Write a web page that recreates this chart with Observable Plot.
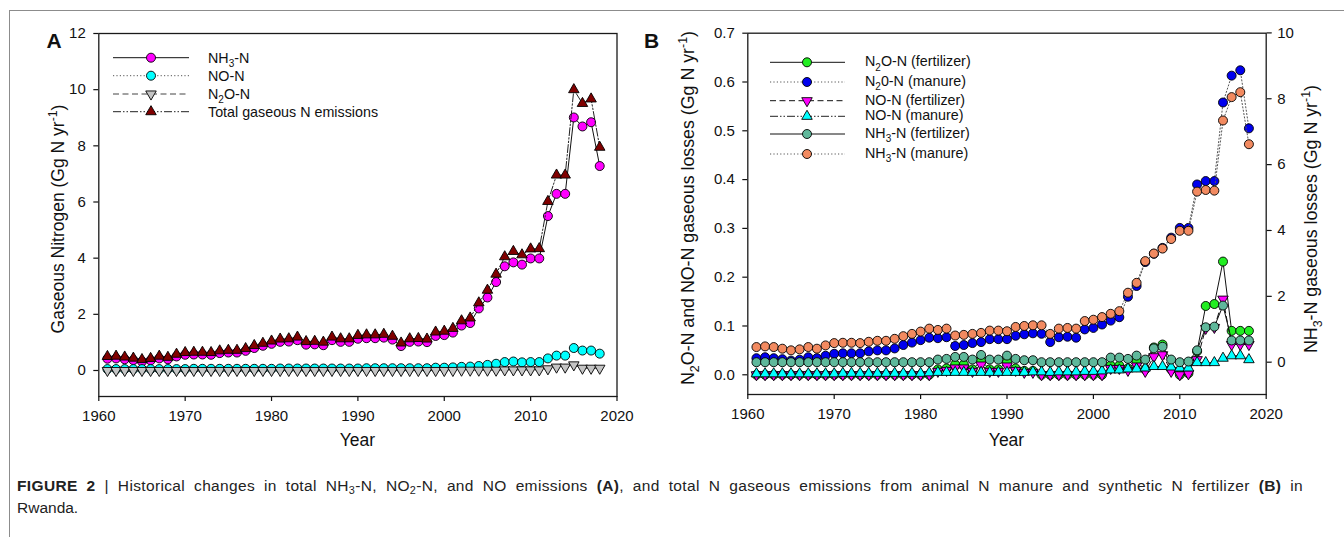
<!DOCTYPE html>
<html>
<head>
<meta charset="utf-8">
<script src="https://cdn.jsdelivr.net/npm/d3@7"></script>
<script src="https://cdn.jsdelivr.net/npm/@observablehq/plot@0.6"></script>
<style>
  html, body { margin: 0; padding: 0; background: #fff; }
  #fig { position: relative; width: 1344px; height: 537px; overflow: hidden; background: #fff;
         font-family: "Liberation Sans", Arial, Helvetica, sans-serif; }
  #border { position: absolute; left: 9px; top: 10px; width: 1400px; height: 600px;
            border-left: 1.5px solid #8c8c8c; border-top: 1.5px solid #8c8c8c; }
  #panelA { position: absolute; left: 0; top: 0; width: 660px; }
  #panelB { position: absolute; left: 640px; top: 0; width: 704px; }
  #caption { position: absolute; left: 17px; top: 475px; width: 1286px; font-size: 15.5px; line-height: 22px;
             color: #222; }
  #cap1 { display: block; white-space: nowrap; }
  #cap2 { display: block; }
  #caption sub { font-size: 70%; vertical-align: baseline; position: relative; top: 0.3em; line-height: 0; }
</style>
</head>
<body>
<div id="fig">
  <div id="border"></div>
  <div id="panelA"></div>
  <div id="panelB"></div>
  <div id="caption"><span id="cap1"><b>FIGURE 2</b> | Historical changes in total NH<sub>3</sub>-N, NO<sub>2</sub>-N, and NO emissions <b>(A)</b>, and total N gaseous emissions from animal N manure and synthetic N fertilizer <b>(B)</b> in</span><span id="cap2">Rwanda.</span></div>
</div>
<script>
// ---------------- DATA ----------------
const years = d3.range(1961, 2019);
const xTicks = [1960, 1970, 1980, 1990, 2000, 2010, 2020];
const yTicksA = [0, 2, 4, 6, 8, 10, 12];
const yTicksBLeft = [0, 0.1, 0.2, 0.3, 0.4, 0.5, 0.6, 0.7];
const yTicksBRight = [0, 2, 4, 6, 8, 10];

// Panel A (Gg N yr-1)
const nh3A = [0.42,0.43,0.40,0.37,0.32,0.36,0.43,0.40,0.50,0.56,
              0.57,0.57,0.56,0.62,0.64,0.64,0.70,0.80,0.88,0.95,
              1.02,1.03,1.08,0.92,0.93,0.90,1.08,1.02,1.02,1.13,
              1.15,1.15,1.17,1.10,0.87,1.02,1.03,1.01,1.23,1.26,
              1.35,1.60,1.69,2.21,2.60,3.15,3.71,3.85,3.77,3.99,
              3.99,5.50,6.29,6.29,9.01,8.69,8.84,7.28];
const noA  = [0.05,0.05,0.05,0.05,0.05,0.05,0.05,0.05,0.05,0.05,
              0.06,0.06,0.06,0.06,0.06,0.06,0.06,0.06,0.06,0.06,
              0.07,0.07,0.07,0.07,0.07,0.07,0.07,0.07,0.07,0.07,
              0.08,0.08,0.08,0.08,0.08,0.08,0.08,0.08,0.10,0.10,
              0.11,0.13,0.14,0.16,0.20,0.24,0.30,0.32,0.29,0.30,
              0.30,0.43,0.53,0.53,0.80,0.71,0.71,0.60];
const n2oA = [0,0,0,0,0,0,0,0,0,0,
              0,0,0,0,0,0,0,0,0,0,
              0,0,0,0,0,0,0,0,0,0,
              0,0,0,0,0,0,0,0,0,0,
              0.00,0.01,0.01,0.01,0.01,0.01,0.02,0.02,0.02,0.02,
              0.02,0.06,0.12,0.12,0.20,0.08,0.08,0.08];
const totA = [0.50,0.51,0.48,0.44,0.39,0.43,0.51,0.47,0.58,0.64,
              0.65,0.65,0.64,0.70,0.72,0.72,0.78,0.89,0.97,1.05,
              1.12,1.13,1.19,1.03,1.04,1.01,1.19,1.13,1.13,1.25,
              1.27,1.27,1.29,1.22,0.98,1.13,1.14,1.12,1.37,1.40,
              1.50,1.77,1.87,2.41,2.86,3.43,4.05,4.24,4.12,4.33,
              4.34,6.02,6.96,6.96,10.00,9.51,9.67,7.95];

// Panel B — left axis (N2O-N, NO-N)
const n2oFertB = [0,0,0,0,0,0,0,0,0,0,
                  0,0,0,0,0,0,0,0,0,0,
                  0,0.011,0.013,0.021,0.021,0.011,0.029,0.011,0.011,0.027,
                  0.013,0.008,0.008,0,0,0,0,0,0,0,
                  0,0.019,0.019,0.013,0.027,0.011,0.056,0.062,0.011,0,
                  0.003,0.048,0.141,0.145,0.232,0.090,0.090,0.090];
const n2oManB  = [0.034,0.036,0.034,0.032,0.029,0.031,0.036,0.034,0.039,0.043,
                  0.044,0.044,0.044,0.048,0.050,0.050,0.054,0.061,0.066,0.071,
                  0.076,0.075,0.077,0.059,0.061,0.065,0.067,0.073,0.073,0.073,
                  0.080,0.083,0.085,0.084,0.067,0.077,0.078,0.076,0.093,0.096,
                  0.103,0.111,0.118,0.160,0.182,0.231,0.248,0.260,0.281,0.301,
                  0.301,0.390,0.397,0.397,0.558,0.613,0.624,0.505];
const noFertB  = [0,0,0,0,0,0,0,0,0,0,
                  0,0,0,0,0,0,0,0,0,0,
                  0,0.007,0.009,0.014,0.014,0.007,0.020,0.007,0.007,0.018,
                  0.009,0.005,0.005,0,0,0,0,0,0,0,
                  0,0.013,0.013,0.009,0.018,0.007,0.037,0.041,0.007,0,
                  0.002,0.031,0.095,0.097,0.155,0.062,0.062,0.062];
const noManB   = [0.002,0.002,0.002,0.002,0.002,0.002,0.002,0.002,0.002,0.002,
                  0.003,0.003,0.003,0.003,0.003,0.003,0.003,0.003,0.003,0.003,
                  0.004,0.005,0.005,0.005,0.005,0.005,0.005,0.005,0.005,0.005,
                  0.005,0.005,0.006,0.006,0.005,0.006,0.006,0.006,0.007,0.007,
                  0.008,0.010,0.010,0.012,0.012,0.014,0.017,0.017,0.016,0.014,
                  0.014,0.025,0.025,0.025,0.034,0.039,0.039,0.031];
// Panel B — right axis (NH3-N)
const nh3FertB = [0,0,0,0,0,0,0,0,0,0,
                  0,0,0,0,0,0,0,0,0,0,
                  0,0.08,0.10,0.16,0.16,0.08,0.22,0.08,0.08,0.20,
                  0.10,0.06,0.06,0,0,0,0,0,0,0,
                  0,0.14,0.14,0.10,0.20,0.08,0.42,0.47,0.08,0.00,
                  0.02,0.36,1.06,1.08,1.72,0.66,0.66,0.66];
const nh3ManB  = [0.46,0.48,0.46,0.41,0.36,0.39,0.46,0.41,0.51,0.58,
                  0.59,0.59,0.58,0.62,0.65,0.65,0.71,0.79,0.86,0.93,
                  1.02,0.98,1.02,0.81,0.83,0.86,0.89,0.96,0.96,0.94,
                  1.07,1.10,1.12,1.12,0.86,1.02,1.04,1.02,1.25,1.29,
                  1.37,1.47,1.55,2.11,2.41,3.07,3.30,3.45,3.74,3.99,
                  3.99,5.18,5.23,5.21,7.34,8.05,8.20,6.62];

// ---------------- STYLE ----------------
const FONT = '"Liberation Sans", Arial, Helvetica, sans-serif';
const TICK_FS = 15;
const DASH = { solid: null, dotted: "1.2,2.2", dashed: "6,3.5", dashdotdot: "8,2,1.5,2,1.5,2" };
const triDown = { draw(ctx, size) {
  const h = Math.sqrt(size / (Math.sqrt(3) * 3));
  ctx.moveTo(0, 2 * h); ctx.lineTo(-Math.sqrt(3) * h, -h); ctx.lineTo(Math.sqrt(3) * h, -h); ctx.closePath();
}};
const SYM = { circle: { plot: "circle", d3: d3.symbolCircle, r: 4.5 },
              up: { plot: "triangle", d3: d3.symbolTriangle, r: 3.9 },
              down: { plot: triDown, d3: triDown, r: 3.9 } };

const seriesA = [
  { label: "NH_{3}-N", values: nh3A, fill: "#ff00ff", sym: "circle", dash: "solid", line: "#111" },
  { label: "NO-N", values: noA, fill: "#00ffff", sym: "circle", dash: "dotted", line: "#555" },
  { label: "N_{2}O-N", values: n2oA, fill: "#c4c4c4", sym: "down", dash: "dashed", line: "#444" },
  { label: "Total gaseous N emissions", values: totA, fill: "#800000", sym: "up", dash: "dashdotdot", line: "#222" }
];
const seriesB = [
  { label: "N_{2}O-N (fertilizer)", values: n2oFertB, axis: "left", fill: "#22ee22", sym: "circle", dash: "solid", line: "#111" },
  { label: "N_{2}0-N (manure)", values: n2oManB, axis: "left", fill: "#0000ee", sym: "circle", dash: "dotted", line: "#555" },
  { label: "NO-N (fertilizer)", values: noFertB, axis: "left", fill: "#ff00ff", sym: "down", dash: "dashed", line: "#111" },
  { label: "NO-N (manure)", values: noManB, axis: "left", fill: "#00ffff", sym: "up", dash: "dashdotdot", line: "#222" },
  { label: "NH_{3}-N (fertilizer)", values: nh3FertB, axis: "right", fill: "#5fb89b", sym: "circle", dash: "solid", line: "#111" },
  { label: "NH_{3}-N (manure)", values: nh3ManB, axis: "right", fill: "#f28a60", sym: "circle", dash: "dotted", line: "#555" }
];

// right axis (NH3) -> left axis units
const rightToLeft = r => 0.0258 + 0.06748 * r;
const leftToRight = l => (l - 0.0258) / 0.06748;

// ---------------- HELPERS ----------------
function rich(textSel, str, fs) {
  const re = /([_^])\{([^}]*)\}/g;
  const parts = []; let last = 0, m;
  while ((m = re.exec(str))) {
    if (m.index > last) parts.push({ t: str.slice(last, m.index), k: "" });
    parts.push({ t: m[2], k: m[1] }); last = re.lastIndex;
  }
  if (last < str.length) parts.push({ t: str.slice(last), k: "" });
  let cur = 0;
  for (const p of parts) {
    const target = p.k === "_" ? 0.3 : p.k === "^" ? -0.42 : 0;
    const ts = textSel.append("tspan").text(p.t);
    if (p.k) ts.attr("font-size", (fs * 0.7).toFixed(2) + "px");
    const dy = (target - cur) * fs;
    if (dy !== 0) ts.attr("dy", dy.toFixed(2));
    cur = target;
  }
}

function seriesMarks(s, conv) {
  const recs = years.map((year, i) => ({ year, v: conv(s.values[i]) }));
  const sym = SYM[s.sym];
  return [
    Plot.line(recs, { x: "year", y: "v", stroke: s.line, strokeWidth: 1, strokeDasharray: DASH[s.dash] }),
    Plot.dot(recs, { x: "year", y: "v", r: sym.r, symbol: sym.plot, fill: s.fill, stroke: "#000", strokeWidth: 0.9 })
  ];
}

function legend(svg, items, o) {
  const g = d3.select(svg).append("g").attr("font-family", FONT).attr("font-size", o.fs + "px")
    .attr("fill", "#111").attr("text-anchor", "start");
  items.forEach((it, i) => {
    const y = o.rows[i];
    g.append("line").attr("x1", o.x1).attr("x2", o.x2).attr("y1", y).attr("y2", y)
      .attr("stroke", it.line).attr("stroke-width", 1).attr("stroke-dasharray", DASH[it.dash]);
    const sym = SYM[it.sym];
    g.append("path").attr("transform", `translate(${o.xm},${y})`)
      .attr("d", d3.symbol(sym.d3, Math.PI * sym.r * sym.r)())
      .attr("fill", it.fill).attr("stroke", "#000").attr("stroke-width", 0.9);
    const t = g.append("text").attr("x", o.xt).attr("y", y + o.base).attr("text-anchor", "start");
    rich(t, it.label, o.fs);
  });
}

function vTitle(svg, str, x, y, fs) {
  const t = d3.select(svg).append("text").attr("transform", `translate(${x},${y}) rotate(-90)`)
    .attr("text-anchor", "middle").attr("font-family", FONT).attr("font-size", fs + "px").attr("fill", "#111");
  rich(t, str, fs);
}
function hText(svg, str, x, y, fs, anchor = "middle", weight = "normal") {
  const t = d3.select(svg).append("text").attr("x", x).attr("y", y).attr("text-anchor", anchor)
    .attr("font-family", FONT).attr("font-size", fs + "px").attr("font-weight", weight).attr("fill", "#111");
  rich(t, str, fs);
}

const baseStyle = { fontFamily: FONT, fontSize: TICK_FS + "px", color: "#111", background: "transparent", overflow: "visible", maxWidth: "none" };
const axisCommon = { tickSize: 5, label: null, strokeWidth: 1.2, fontSize: TICK_FS };

// ---------------- PANEL A ----------------
const A = { w: 660, h: 460, ml: 98.3, mr: 43.5, mt: 33, mb: 64 };
const plotA = Plot.plot({
  width: A.w, height: A.h, marginLeft: A.ml, marginRight: A.mr, marginTop: A.mt, marginBottom: A.mb,
  style: baseStyle,
  x: { domain: [1960, 2020] },
  y: { domain: [-0.926, 12] },
  marks: [
    Plot.axisX({ ...axisCommon, ticks: xTicks, tickPadding: 9, tickFormat: d3.format("d") }),
    Plot.axisY({ ...axisCommon, ticks: yTicksA, tickPadding: 8, tickFormat: d3.format("d") }),
    ...seriesA.flatMap(s => seriesMarks(s, v => v)),
    Plot.frame({ stroke: "#1a1a1a", strokeWidth: 1.3 })
  ]
});
document.getElementById("panelA").appendChild(plotA);
legend(plotA, seriesA, { x1: 113, x2: 189, xm: 151, xt: 208, rows: [57.7, 75.7, 94, 111.7], base: 4.8, fs: 14.3 });
vTitle(plotA, "Gaseous Nitrogen (Gg N yr^{-1})", 64, 219, 17.5);
hText(plotA, "Year", (A.ml + A.w - A.mr) / 2, 446, 17.5);
hText(plotA, "A", 46.5, 48, 21, "start", "bold");

// ---------------- PANEL B ----------------
const B = { w: 704, h: 460, ml: 107.3, mr: 78.3, mt: 32.7, mb: 66 };
const plotB = Plot.plot({
  width: B.w, height: B.h, marginLeft: B.ml, marginRight: B.mr, marginTop: B.mt, marginBottom: B.mb,
  style: baseStyle,
  x: { domain: [1960, 2020] },
  y: { domain: [-0.0404, 0.7] },
  marks: [
    Plot.axisX({ ...axisCommon, ticks: xTicks, tickPadding: 9, tickFormat: d3.format("d") }),
    Plot.axisY({ ...axisCommon, anchor: "left", ticks: yTicksBLeft, tickPadding: 8, tickFormat: d3.format(".1f") }),
    Plot.axisY({ ...axisCommon, anchor: "right", ticks: yTicksBRight.map(rightToLeft), tickPadding: 6,
                 tickFormat: d => String(Math.round(leftToRight(d))) }),
    ...seriesB.flatMap(s => seriesMarks(s, s.axis === "right" ? rightToLeft : v => v)),
    Plot.frame({ stroke: "#1a1a1a", strokeWidth: 1.3 })
  ]
});
document.getElementById("panelB").appendChild(plotB);
legend(plotB, seriesB, { x1: 130, x2: 205, xm: 167, xt: 225, rows: [62.3, 82, 100.7, 116.3, 134, 154], base: 4, fs: 14.3 });
vTitle(plotB, "N_{2}O-N and NO-N gaseous losses (Gg N yr^{-1})", 54, 208, 17.8);
vTitle(plotB, "NH_{3}-N gaseous losses (Gg N yr^{-1})", 677, 219, 17.8);
hText(plotB, "Year", (B.ml + B.w - B.mr) / 2, 446, 17.5);
hText(plotB, "B", 4, 48, 21, "start", "bold");

// ---------------- CAPTION: justify the first line to the reference width ----------------
(function justifyCaption() {
  const cap1 = document.getElementById("cap1");
  cap1.style.display = "inline";
  const w = cap1.getBoundingClientRect().width;
  const spaces = (cap1.textContent.match(/ /g) || []).length;
  const chars = cap1.textContent.length;
  const extra = 1286 - w;
  const ls = Math.max(0, Math.min(0.35, extra * 0.4 / chars));
  cap1.style.letterSpacing = ls.toFixed(3) + "px";
  const w2 = cap1.getBoundingClientRect().width;
  cap1.style.wordSpacing = ((1286 - w2) / spaces).toFixed(3) + "px";
  cap1.style.display = "block";
})();
</script>
</body>
</html>
